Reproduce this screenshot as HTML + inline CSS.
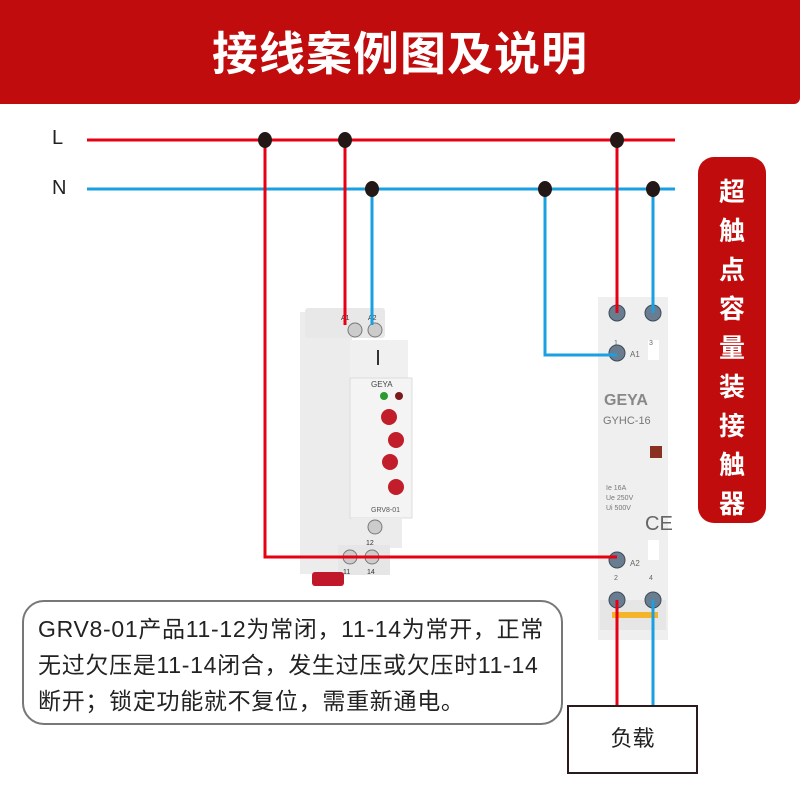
<!DOCTYPE html>
<html><head><meta charset="utf-8"><style>
body{margin:0;width:800px;height:800px;background:#fff;position:relative;overflow:hidden;font-family:"Liberation Sans","Noto Sans CJK SC",sans-serif}
.hdr{position:absolute;left:0;top:0;width:800px;height:104px;background:#c00c0c;border-bottom-right-radius:6px}
.hdr div{position:absolute;left:0;width:800px;top:18px;text-align:center;color:#fff;font-size:46px;font-weight:bold;letter-spacing:1px}
.pill{position:absolute;left:698px;top:157px;width:68px;height:366px;background:#c00c0c;border-radius:16px;color:#fff;font-size:26px;font-weight:bold;text-align:center;line-height:39px;padding-top:16px;box-sizing:border-box}
.note{position:absolute;left:22px;top:600px;width:541px;height:125px;border:2px solid #777;border-radius:22px;box-sizing:border-box;font-size:23px;letter-spacing:0.7px;line-height:36px;padding:9px 0 0 14px;color:#222;white-space:nowrap}
.load{position:absolute;left:567px;top:705px;width:131px;height:69px;border:2px solid #2a1c1c;box-sizing:border-box;text-align:center;line-height:64px;font-size:22px;color:#222;background:#fff}
.lbl{position:absolute;font-size:20px;color:#222}
</style></head><body>
<div class="hdr"><div>接线案例图及说明</div></div>
<div class="lbl" style="left:52px;top:127px">L</div>
<div class="lbl" style="left:52px;top:177px">N</div>
<svg width="800" height="800" style="position:absolute;left:0;top:0">
<g>
<rect x="300" y="312" width="52" height="262" fill="#ececec"/>
<rect x="305" y="308" width="80" height="30" rx="3" fill="#e8e8e8"/>
<rect x="350" y="340" width="58" height="40" fill="#f0f0f0"/>
<rect x="350" y="378" width="62" height="140" fill="#f4f4f4" stroke="#ddd"/>
<rect x="352" y="518" width="50" height="30" fill="#ececec"/>
<rect x="338" y="545" width="52" height="30" fill="#e6e6e6"/>
<rect x="312" y="572" width="32" height="14" rx="3" fill="#c0172a"/>
<line x1="378" y1="350" x2="378" y2="365" stroke="#333" stroke-width="2"/>
<text x="371" y="387" font-size="8" fill="#444">GEYA</text>
<circle cx="384" cy="396" r="4" fill="#2d9a2d"/><circle cx="399" cy="396" r="4" fill="#7a1a1a"/>
<circle cx="389" cy="417" r="8" fill="#c21d2a"/><circle cx="396" cy="440" r="8" fill="#c21d2a"/>
<circle cx="390" cy="462" r="8" fill="#c21d2a"/><circle cx="396" cy="487" r="8" fill="#c21d2a"/>
<text x="371" y="512" font-size="7" fill="#555">GRV8-01</text>
<circle cx="355" cy="330" r="7" fill="#ccc" stroke="#777"/><circle cx="375" cy="330" r="7" fill="#ccc" stroke="#777"/>
<text x="341" y="320" font-size="7" fill="#333">A1</text><text x="368" y="320" font-size="7" fill="#333">A2</text>
<circle cx="375" cy="527" r="7" fill="#ccc" stroke="#777"/>
<text x="366" y="545" font-size="7" fill="#333">12</text>
<circle cx="350" cy="557" r="7" fill="#ccc" stroke="#777"/><circle cx="372" cy="557" r="7" fill="#ccc" stroke="#777"/>
<text x="343" y="574" font-size="7" fill="#333">11</text><text x="367" y="574" font-size="7" fill="#333">14</text>
</g>
<g>
<rect x="598" y="297" width="70" height="343" fill="#efefef"/>
<rect x="600" y="600" width="66" height="30" fill="#e6e6e6"/>
<rect x="612" y="612" width="46" height="6" fill="#f3b52a"/>
<text x="604" y="405" font-size="16" font-weight="bold" fill="#888">GEYA</text>
<text x="603" y="424" font-size="11" fill="#777">GYHC-16</text>
<rect x="650" y="446" width="12" height="12" fill="#8a3020"/>
<text x="606" y="490" font-size="7" fill="#777">Ie 16A</text>
<text x="606" y="500" font-size="7" fill="#777">Ue 250V</text>
<text x="606" y="510" font-size="7" fill="#777">Ui 500V</text>
<text x="645" y="530" font-size="20" fill="#666">CE</text>
<rect x="648" y="340" width="11" height="20" fill="#fff"/>
<rect x="648" y="540" width="11" height="20" fill="#fff"/>
<text x="614" y="345" font-size="7" fill="#666">1</text><text x="649" y="345" font-size="7" fill="#666">3</text>
<text x="630" y="357" font-size="8" fill="#666">A1</text><text x="630" y="566" font-size="8" fill="#666">A2</text>
<text x="614" y="580" font-size="7" fill="#666">2</text><text x="649" y="580" font-size="7" fill="#666">4</text>
<g fill="#6a7d90" stroke="#3c4a58">
<circle cx="617" cy="313" r="8"/><circle cx="653" cy="313" r="8"/>
<circle cx="617" cy="353" r="8"/><circle cx="617" cy="560" r="8"/>
<circle cx="617" cy="600" r="8"/><circle cx="653" cy="600" r="8"/>
</g>
</g>
<g fill="none" stroke-width="3">
<line x1="87" y1="140" x2="675" y2="140" stroke="#e60012"/>
<line x1="87" y1="189" x2="675" y2="189" stroke="#1a9fe0"/>
<polyline points="265,140 265,557 617,557" stroke="#e60012"/>
<line x1="345" y1="140" x2="345" y2="325" stroke="#e60012"/>
<line x1="372" y1="189" x2="372" y2="325" stroke="#1a9fe0"/>
<polyline points="545,189 545,355 617,355" stroke="#1a9fe0"/>
<line x1="617" y1="140" x2="617" y2="313" stroke="#e60012"/>
<line x1="653" y1="189" x2="653" y2="313" stroke="#1a9fe0"/>
<line x1="617" y1="600" x2="617" y2="706" stroke="#e60012"/>
<line x1="653" y1="600" x2="653" y2="706" stroke="#1a9fe0"/>
</g>
<g fill="#231815">
<ellipse cx="265" cy="140" rx="7" ry="8"/><ellipse cx="345" cy="140" rx="7" ry="8"/><ellipse cx="617" cy="140" rx="7" ry="8"/>
<ellipse cx="372" cy="189" rx="7" ry="8"/><ellipse cx="545" cy="189" rx="7" ry="8"/><ellipse cx="653" cy="189" rx="7" ry="8"/>
</g>
</svg>
<div class="pill">超<br>触<br>点<br>容<br>量<br>装<br>接<br>触<br>器</div>
<div class="note">GRV8-01产品11-12为常闭，11-14为常开，正常<br>无过欠压是11-14闭合，发生过压或欠压时11-14<br>断开；锁定功能就不复位，需重新通电。</div>
<div class="load">负载</div>
</body></html>
